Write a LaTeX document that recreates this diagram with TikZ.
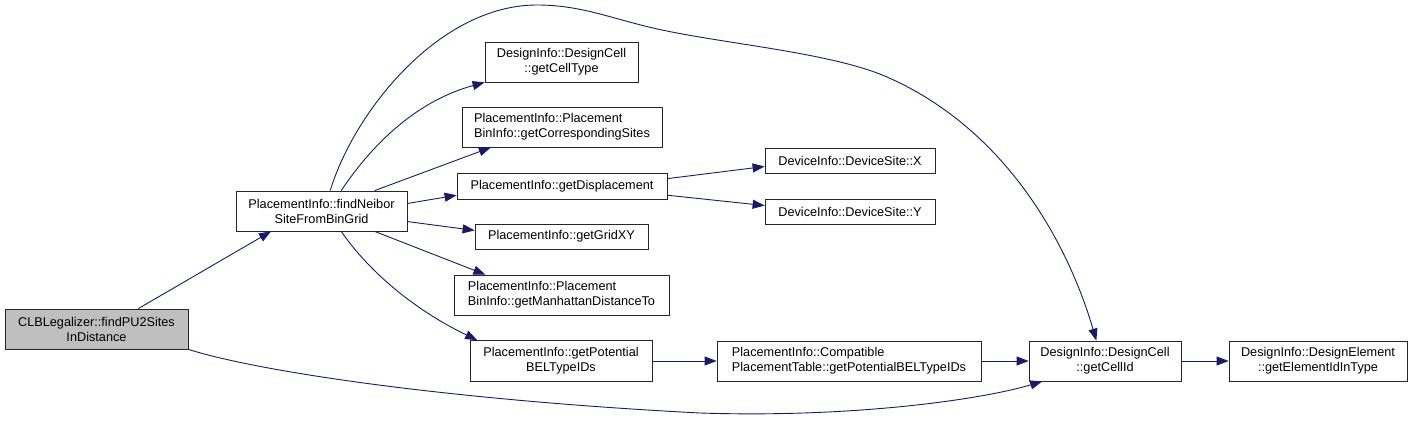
\documentclass[tikz,border=0pt]{standalone}
\usepackage{fontspec}
\setmainfont{Liberation Sans}
\usetikzlibrary{arrows.meta}
\definecolor{navy}{HTML}{191970}

\begin{document}
\begin{tikzpicture}[x=1pt, y=-1pt,
    box/.style={draw=black!85, fill=white, line width=0.8pt, inner sep=0pt,
      font=\fontsize{12.7}{15}\selectfont, align=center, minimum height=40pt},
    onebox/.style={box, minimum height=25pt},
    edge/.style={navy, line width=0.9pt, -{Triangle[length=12pt, width=9pt]}}]
  % Help lines
  %\draw[help lines, step=50, gray!50] (0,0) grid (1412,420);
  \useasboundingbox (0,0) rectangle (1412,420);
  \node[box, fill=black!25, minimum width=183] (clb) at (96.5, 329){CLBLegalizer::findPU2Sites\\InDistance};
  \node[box, minimum width=171] (fnb) at (321.5, 211){PlacementInfo::findNeibor\\SiteFromBinGrid};
  \node[box, minimum width=153] (gct) at (561.5, 62){DesignInfo::DesignCell\\::getCellType};
  \node[box, align=left, minimum width=200] (gcs) at (562, 127){PlacementInfo::Placement\\BinInfo::getCorrespondingSites};
  \node[onebox, minimum width=210, minimum height=26] (gdp) at (562, 186){PlacementInfo::getDisplacement};
  \node[onebox, minimum width=173] (gxy) at (561.5, 236.5){PlacementInfo::getGridXY};
  \node[box, align=left, minimum width=215] (gmd) at (561.5, 295){PlacementInfo::Placement\\BinInfo::getManhattanDistanceTo};
  \node[box, minimum width=182, minimum height=41] (gpt) at (561, 361){PlacementInfo::getPotential\\BELTypeIDs};
  \node[onebox, minimum width=170] (dsx) at (850, 160.5){DeviceInfo::DeviceSite::X};
  \node[onebox, minimum width=170] (dsy) at (850, 211.5){DeviceInfo::DeviceSite::Y};
  \node[box, align=left, minimum width=264] (cpt) at (849, 361){PlacementInfo::Compatible\\PlacementTable::getPotentialBELTypeIDs};
  \node[box, minimum width=152] (gci) at (1105, 361){DesignInfo::DesignCell\\::getCellId};
  \node[box, minimum width=178] (gei) at (1318, 361){DesignInfo::DesignElement\\::getElementIdInType};
  % straight calls
  \foreach \a/\b in {clb.26/fnb.202, fnb.21/gcs.196, fnb.5/gdp.185, fnb.-7/gxy.176,
      fnb.-21/gmd.165, gdp.4/dsx.184, gdp.-5/dsy.176, gpt/cpt, cpt/gci, gci/gei}
    \draw[edge] (\a) -- (\b);
  % curved calls
  \draw[edge] (fnb.46) .. controls (375,140) and (420,100) .. (gct.south west);
  \draw[edge] (fnb.-46) .. controls (375,280) and (425,315) .. (gpt.166);
  \draw[edge] (fnb.67) .. controls (355,110) and (440,5) .. (537,5)
    .. controls (580,5) and (610,18) .. (653,28)
    .. controls (720,43.6) and (830,52) .. (887,77)
    .. controls (1010,131) and (1070,250) .. (gci.113);
  \draw[edge] (clb.south east) .. controls (260,372) and (450,400) .. (700,413)
    .. controls (850,418) and (980,400) .. (gci.198);
\end{tikzpicture}
\end{document}
